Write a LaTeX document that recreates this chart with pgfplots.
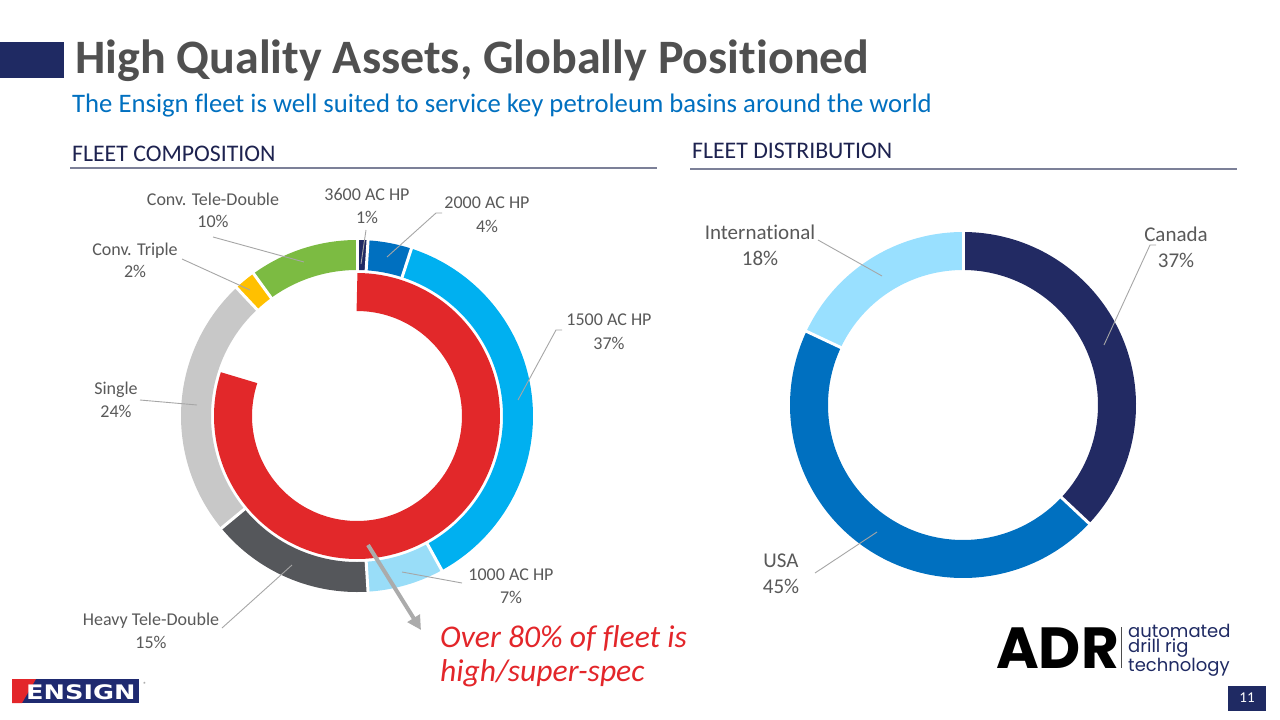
\documentclass[border=0pt]{standalone}
\usepackage{pgfplots}
\pgfplotsset{compat=1.18}
\usepackage{pgfplotstable}
\usepackage{graphicx}
\usepackage{fontspec}
\usetikzlibrary{arrows.meta}
\setmainfont{Carlito}[Ligatures=NoCommon]
\newfontfamily\poppins{Poppins}
\newfontfamily\logofont{DejaVu Sans}

\definecolor{navy}{HTML}{1F2A63}
\definecolor{titlegray}{HTML}{505050}
\definecolor{subblue}{HTML}{0070C0}
\definecolor{headnavy}{HTML}{1E2350}
\definecolor{rulegray}{HTML}{7C8098}
\definecolor{labelgray}{HTML}{595959}
\definecolor{leader}{HTML}{A6A6A6}
\definecolor{cA}{HTML}{1F2A63}
\definecolor{cB}{HTML}{0070C0}
\definecolor{cC}{HTML}{00B0F0}
\definecolor{cD}{HTML}{99DDF8}
\definecolor{cE}{HTML}{55575B}
\definecolor{cF}{HTML}{C8C8C8}
\definecolor{cG}{HTML}{FFC000}
\definecolor{cH}{HTML}{7CBB42}
\definecolor{cRed}{HTML}{E2282A}
\definecolor{cCan}{HTML}{222A63}
\definecolor{cUSA}{HTML}{0070C0}
\definecolor{cInt}{HTML}{99E0FF}
\definecolor{ensred}{HTML}{E3262A}
\definecolor{ensnavy}{HTML}{1F2A70}
\definecolor{arrowgray}{HTML}{ABABAB}

\tikzset{
  lbl/.style={anchor=base, text=labelgray, font=\fontsize{18}{22}\selectfont},
  rlbl/.style={anchor=base, text=labelgray, font=\fontsize{21}{25}\selectfont},
  lead/.style={draw=leader, line width=0.9pt},
}

% Fleet composition (outer ring), clockwise from 12 o'clock
\pgfplotstableread{
pct col
1 cA
4 cB
37 cC
7 cD
15 cE
24 cF
2 cG
10 cH
}\composition

% High/super-spec share (inner ring)
\pgfplotstableread{
pct col
80 cRed
}\highspec

% Fleet distribution
\pgfplotstableread{
pct col
37 cCan
45 cUSA
18 cInt
}\distribution

% \ring{table}{cx}{cy}{rmid}{width}{gaps 1/0}
\newcommand\ring[6]{%
  \pgfplotstablegetrowsof{#1}%
  \pgfmathtruncatemacro\rgN{\pgfplotsretval-1}%
  \def\rgCum{0}%
  \pgfplotsforeachungrouped \rgI in {0,...,\rgN}{%
    \pgfplotstablegetelem{\rgI}{pct}\of{#1}\let\rgP=\pgfplotsretval
    \pgfplotstablegetelem{\rgI}{col}\of{#1}\let\rgC=\pgfplotsretval
    \pgfmathsetmacro\rgA{3.6*\rgCum}%
    \pgfmathsetmacro\rgCum{\rgCum+\rgP}%
    \pgfmathsetmacro\rgB{3.6*\rgCum}%
    \edef\rgTemp{\noexpand\addplot[draw=\rgC, line width=#5pt, domain=\rgA:\rgB, samples=120] ({#2+#4*sin(x)},{#3-#4*cos(x)});}%
    \rgTemp
  }%
  \ifnum#6=1
  \def\rgCum{0}%
  \pgfplotsforeachungrouped \rgI in {0,...,\rgN}{%
    \pgfplotstablegetelem{\rgI}{pct}\of{#1}\let\rgP=\pgfplotsretval
    \pgfmathsetmacro\rgA{3.6*\rgCum}%
    \pgfmathsetmacro\rgCum{\rgCum+\rgP}%
    \pgfmathsetmacro\rgXa{#2+(#4-#5/2-2)*sin(\rgA)}%
    \pgfmathsetmacro\rgYa{#3-(#4-#5/2-2)*cos(\rgA)}%
    \pgfmathsetmacro\rgXb{#2+(#4+#5/2+2)*sin(\rgA)}%
    \pgfmathsetmacro\rgYb{#3-(#4+#5/2+2)*cos(\rgA)}%
    \edef\rgTemp{\noexpand\addplot[draw=white, line width=3pt] coordinates {(\rgXa,\rgYa) (\rgXb,\rgYb)};}%
    \rgTemp
  }%
  \fi
}

\begin{document}
\begin{tikzpicture}
\begin{axis}[
  width=1280pt, height=720pt, scale only axis,
  xmin=0, xmax=1280, ymin=0, ymax=720, y dir=reverse,
  hide axis, clip=false,
]
\fill[white] (axis cs:0,0) rectangle (axis cs:1280,720);

% header
\fill[navy] (axis cs:0,42) rectangle (axis cs:64,78);
\node[anchor=base west, text=titlegray, font=\fontsize{48}{56}\selectfont\bfseries, inner sep=0pt] at (axis cs:75,73) {High Quality Assets, Globally Positioned};
\node[anchor=base west, text=subblue, font=\fontsize{26.7}{31}\selectfont, inner sep=0pt] at (axis cs:72,112) {The Ensign fleet is well suited to service key petroleum basins around the world};

\node[anchor=base west, text=headnavy, font=\fontsize{23.8}{28}\selectfont, inner sep=0pt] at (axis cs:72,161) {FLEET COMPOSITION};
\node[anchor=base west, text=headnavy, font=\fontsize{23.8}{28}\selectfont, inner sep=0pt] at (axis cs:692,158) {FLEET DISTRIBUTION};
\draw[rulegray, line width=1.5pt] (axis cs:70,168) -- (axis cs:657,168);
\draw[rulegray, line width=1.5pt] (axis cs:690,169) -- (axis cs:1237,169);

% donuts
\ring{\composition}{357}{416}{161}{30}{1}
\ring{\highspec}{357}{416}{124}{38}{0}
\ring{\distribution}{963}{405}{154}{38}{1}

% leader lines, left
\draw[lead] (axis cs:213,237) -- (axis cs:304,262);
\draw[lead] (axis cs:182,259) -- (axis cs:250,290);
\draw[lead] (axis cs:366,230) -- (axis cs:361,264);
\draw[lead] (axis cs:442,213) -- (axis cs:436,213) -- (axis cs:387,257);
\draw[lead] (axis cs:562,330) -- (axis cs:556,330) -- (axis cs:518,400);
\draw[lead] (axis cs:140,400) -- (axis cs:197,405);
\draw[lead] (axis cs:462,583) -- (axis cs:402,572);
\draw[lead] (axis cs:222,628) -- (axis cs:292,565);
% leader lines, right
\draw[lead] (axis cs:818,240) -- (axis cs:882,276);
\draw[lead] (axis cs:1156,245) -- (axis cs:1150,245) -- (axis cs:1104,345);
\draw[lead] (axis cs:815,573) -- (axis cs:877,532);

% labels, left
\node[lbl] at (axis cs:213,205) {Conv. Tele-Double};
\node[lbl] at (axis cs:213,227) {10\%};
\node[lbl] at (axis cs:135,255) {Conv. Triple};
\node[lbl] at (axis cs:135,277) {2\%};
\node[lbl] at (axis cs:367,200) {3600 AC HP};
\node[lbl] at (axis cs:367,223) {1\%};
\node[lbl] at (axis cs:487,208) {2000 AC HP};
\node[lbl] at (axis cs:487,232) {4\%};
\node[lbl] at (axis cs:609,325) {1500 AC HP};
\node[lbl] at (axis cs:609,349) {37\%};
\node[lbl] at (axis cs:116,394) {Single};
\node[lbl] at (axis cs:116,417) {24\%};
\node[lbl] at (axis cs:511,580) {1000 AC HP};
\node[lbl] at (axis cs:511,603) {7\%};
\node[lbl] at (axis cs:151,625) {Heavy Tele-Double};
\node[lbl] at (axis cs:151,648) {15\%};
% labels, right
\node[rlbl] at (axis cs:760,239) {International};
\node[rlbl] at (axis cs:760,265) {18\%};
\node[rlbl] at (axis cs:1176,241) {Canada};
\node[rlbl] at (axis cs:1176,267) {37\%};
\node[rlbl] at (axis cs:781,567) {USA};
\node[rlbl] at (axis cs:781,593) {45\%};

% arrow and callout
\draw[arrowgray, line width=4pt, -{Triangle[width=14pt,length=14pt]}] (axis cs:368,545) -- (axis cs:421,630);
\node[anchor=base west, text=ensred, font=\fontsize{31.6}{36}\selectfont\itshape, inner sep=0pt] at (axis cs:440,647) {Over 80\% of fleet is};
\node[anchor=base west, text=ensred, font=\fontsize{31.6}{36}\selectfont\itshape, inner sep=0pt] at (axis cs:440,681) {high/super-spec};

% ENSIGN logo
\fill[ensnavy] (axis cs:12,679) rectangle (axis cs:139,703);
\fill[ensred] (axis cs:12,679) -- (axis cs:36,679) -- (axis cs:22,703) -- (axis cs:12,703) -- cycle;
\node[anchor=base west, text=white, inner sep=0pt, font=\logofont\bfseries\fontsize{20}{22}\selectfont] at (axis cs:26,699) {\scalebox{1.28}[1]{ENSIGN}};
\node[anchor=center, text=labelgray, inner sep=0pt, font=\fontsize{6}{7}\selectfont] at (axis cs:145,684) {\textregistered};

% ADR logo
\node[anchor=base west, text=black, inner sep=0pt, font=\poppins\bfseries\fontsize{58}{60}\selectfont] at (axis cs:996,668) {ADR};
\draw[black!70, line width=1pt] (axis cs:1121,627) -- (axis cs:1121,668);
\node[anchor=north west, text=navy, inner sep=0pt, align=left, font=\poppins\fontsize{18}{14.5}\selectfont] at (axis cs:1128,624) {automated\\drill rig\\technology};

% page number
\fill[navy] (axis cs:1228,686) rectangle (axis cs:1266,711);
\node[anchor=center, text=white, font=\fontsize{15}{18}\selectfont] at (axis cs:1247,698) {11};
\end{axis}
\end{tikzpicture}
\end{document}
